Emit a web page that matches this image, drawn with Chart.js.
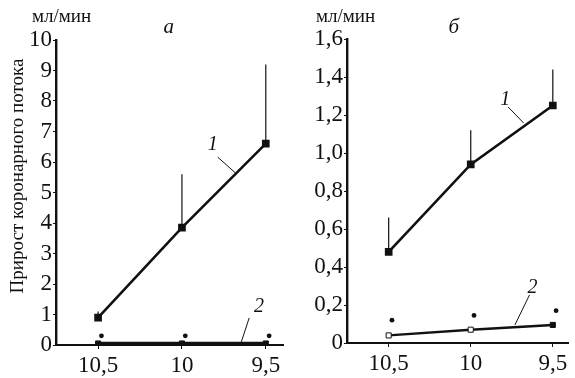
<!DOCTYPE html>
<html>
<head>
<meta charset="utf-8">
<script src="https://cdn.jsdelivr.net/npm/chart.js@4.4.0/dist/chart.umd.min.js"></script>
<style>
  body { margin: 0; background: #fff; }
  #wrap { position: relative; width: 575px; height: 378px; }
  #left { position: absolute; left: 0; top: 0; }
  #right { position: absolute; left: 290px; top: 0; }
</style>
</head>
<body>
<div id="wrap">
  <canvas id="left" width="290" height="378"></canvas>
  <canvas id="right" width="285" height="378"></canvas>
</div>
<script>
// categories (x axis)
const xCats = [10.5, 10, 9.5];
const xLabels = ['10,5', '10', '9,5'];

// panel "а"
const aLine1 = [0.9, 3.85, 6.6];
const aErr1 = [1.1, 5.6, 9.2];
const aLine2 = [0.05, 0.05, 0.05];
const aDots2 = [0.3, 0.3, 0.3];
const aYTicks = [0, 1, 2, 3, 4, 5, 6, 7, 8, 9, 10];

// panel "б"
const bLine1 = [0.48, 0.94, 1.25];
const bErr1 = [0.66, 1.12, 1.44];
const bLine2 = [0.04, 0.07, 0.095];
const bDots2 = [0.12, 0.145, 0.17];
const bYTicks = [0, 0.2, 0.4, 0.6, 0.8, 1.0, 1.2, 1.4, 1.6];

// curve labels (data coordinates)
const aNotes = [
  { text: '1', x: 9.816, y: 6.56, from: [9.787, 6.16], to: [9.681, 5.64] },
  { text: '2', x: 9.541, y: 1.25, from: [9.599, 0.89], to: [9.646, 0.10] }
];
const bNotes = [
  { text: '1', x: 9.79, y: 1.279, from: [9.772, 1.242], to: [9.678, 1.158] },
  { text: '2', x: 9.624, y: 0.289, from: [9.642, 0.253], to: [9.731, 0.095] }
];

const SERIF = '"Liberation Serif", "DejaVu Serif", serif';

const pts = (vals, shift) => xCats.map((x, i) => ({ x: x - (shift || 0), y: vals[i] }));

const decor = {
  id: 'decor',
  afterDatasetsDraw(chart, args, opts) {
    const { ctx, chartArea } = chart;
    const xs = chart.scales.x, ys = chart.scales.y;
    ctx.save();
    // error bars (upward only)
    ctx.strokeStyle = '#111';
    ctx.lineWidth = 1.2;
    opts.err.forEach((top, i) => {
      const px = xs.getPixelForValue(xCats[i]);
      ctx.beginPath();
      ctx.moveTo(px, ys.getPixelForValue(opts.base[i]));
      ctx.lineTo(px, ys.getPixelForValue(top));
      ctx.stroke();
    });
    // curve labels with leader lines
    ctx.fillStyle = '#111';
    ctx.font = 'italic 20px ' + SERIF;
    ctx.textAlign = 'center';
    ctx.textBaseline = 'middle';
    ctx.lineWidth = 1;
    opts.notes.forEach(n => {
      ctx.fillText(n.text, xs.getPixelForValue(n.x), ys.getPixelForValue(n.y));
      ctx.beginPath();
      ctx.moveTo(xs.getPixelForValue(n.from[0]), ys.getPixelForValue(n.from[1]));
      ctx.lineTo(xs.getPixelForValue(n.to[0]), ys.getPixelForValue(n.to[1]));
      ctx.stroke();
    });
    // unit and panel letter
    ctx.font = '19px ' + SERIF;
    ctx.textAlign = 'left';
    ctx.fillText('мл/мин', chartArea.left - opts.unitDx, 17);
    ctx.font = 'italic 21px ' + SERIF;
    ctx.textAlign = 'center';
    ctx.fillText(opts.letter, (chartArea.left + chartArea.right) / 2 - opts.letterDx, 27);
    // rotated axis title
    if (opts.ytitle) {
      ctx.translate(18, 176);
      ctx.rotate(-Math.PI / 2);
      ctx.font = '19px ' + SERIF;
      ctx.fillText(opts.ytitle, 0, 0);
    }
    ctx.restore();
  }
};

function makeChart(id, cfg) {
  const fmt = v => (v === 0 ? '0' : (cfg.dec ? v.toFixed(1) : String(v)).replace('.', ','));
  return new Chart(document.getElementById(id), {
    type: 'scatter',
    data: {
      datasets: [
        {
          data: pts(cfg.line1), showLine: true, borderColor: '#111', borderWidth: 2.6,
          pointStyle: 'rect', pointRadius: 3.6, pointBackgroundColor: '#111', pointBorderColor: '#111'
        },
        {
          data: pts(cfg.line2), showLine: true, borderColor: '#111', borderWidth: cfg.w2,
          pointStyle: 'rect', pointRadius: 3.6, pointBackgroundColor: cfg.fill2, pointBorderColor: '#111', pointBorderWidth: 1
        },
        {
          data: pts(cfg.dots, 0.02), showLine: false,
          pointStyle: 'circle', pointRadius: 2.4, pointBackgroundColor: '#111', pointBorderWidth: 0
        }
      ]
    },
    options: {
      responsive: false,
      animation: false,
      events: [],
      layout: { padding: { top: cfg.top, right: cfg.right, left: 0, bottom: 0 } },
      plugins: {
        legend: { display: false },
        tooltip: { enabled: false },
        decor: {
          err: cfg.err, base: cfg.line1, notes: cfg.notes, letter: cfg.letter,
          unitDx: cfg.unitDx, letterDx: cfg.letterDx, ytitle: cfg.ytitle
        }
      },
      scales: {
        x: {
          type: 'linear', reverse: true, min: cfg.xmin, max: cfg.xmax,
          afterBuildTicks: s => { s.ticks = xCats.map(v => ({ value: v })); },
          afterFit: s => { s.height = cfg.xh; },
          border: { display: true, color: '#111', width: 2 },
          grid: { display: true, drawOnChartArea: false, drawTicks: true, tickLength: 4, color: '#111' },
          ticks: {
            color: '#111', padding: 3, maxRotation: 0, autoSkip: false,
            font: { family: SERIF, size: 23 },
            callback: v => xLabels[xCats.indexOf(v)]
          }
        },
        y: {
          min: 0, max: cfg.ymax,
          afterBuildTicks: s => { s.ticks = cfg.yTicks.map(v => ({ value: v })); },
          afterFit: s => { s.width = cfg.yw; },
          border: { display: true, color: '#111', width: 2.4 },
          grid: { display: true, drawOnChartArea: false, drawTicks: true, tickLength: 3, color: '#111' },
          ticks: {
            color: '#111', padding: 1, autoSkip: false,
            font: { family: SERIF, size: 23 },
            callback: fmt
          }
        }
      }
    },
    plugins: [decor]
  });
}

makeChart('left', {
  line1: aLine1, err: aErr1, line2: aLine2, dots: aDots2, notes: aNotes,
  fill2: '#111', w2: 3.4, yTicks: aYTicks, ymax: 10, dec: false,
  xmin: 9.395, xmax: 10.751, top: 40, right: 3, xh: 33, yw: 56,
  ytitle: 'Прирост коронарного потока', letter: 'а', unitDx: 24, letterDx: 1
});

makeChart('right', {
  line1: bLine1, err: bErr1, line2: bLine2, dots: bDots2, notes: bNotes,
  fill2: ['#fff', '#fff', '#111'], w2: 2.4, yTicks: bYTicks, ymax: 1.6, dec: true,
  xmin: 9.405, xmax: 10.754, top: 39, right: 0, xh: 35, yw: 57,
  ytitle: '', letter: 'б', unitDx: 31, letterDx: 4
});
</script>
</body>
</html>
